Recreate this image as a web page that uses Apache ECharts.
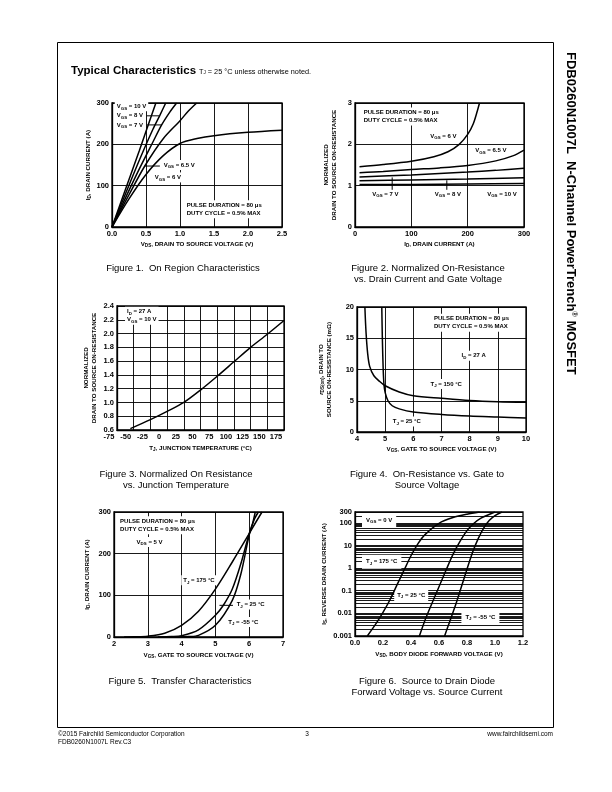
<!DOCTYPE html>
<html>
<head>
<meta charset="utf-8">
<script src="https://cdn.jsdelivr.net/npm/echarts@6.0.0/dist/echarts.min.js"></script>
<style>
html,body{margin:0;padding:0;background:#fff;}
#c{width:612px;height:792px;}
</style>
</head>
<body>
<div id="c"></div>
<script>
// ======================= DATA =======================
// Figure 1 : On Region Characteristics  [VDS (V), ID (A)]
const fig1Vgs10 = [[0,0],[0.2,92],[0.4,184],[0.55,255],[0.645,300]];
const fig1Vgs8  = [[0,0],[0.2,81],[0.4,161],[0.6,236],[0.7,269],[0.79,300]];
const fig1Vgs7  = [[0,0],[0.2,71],[0.4,140],[0.6,205],[0.73,247],[0.85,278],[0.95,300]];
const fig1Vgs65 = [[0,0],[0.25,78],[0.48,147],[0.75,213],[1.0,257],[1.12,280],[1.245,300]];
const fig1Vgs6  = [[0,0],[0.25,68],[0.5,127],[0.75,172],[1.0,202],[1.25,214],[1.5,221],[2.0,229],[2.5,234]];
const fig1XAxis = [0, 2.5, 0.5];
const fig1YAxis = [0, 300, 100];

// Figure 2 : Normalized On-Resistance vs Drain Current  [ID (A), normalized]
const fig2Vgs6  = [[8,1.46],[50,1.51],[100,1.59],[140,1.70],[165,1.82],[185,2.0],[200,2.24],[210,2.5],[217,2.8],[221,3.0]];
const fig2Vgs65 = [[8,1.31],[50,1.34],[100,1.39],[150,1.43],[200,1.49],[250,1.6],[280,1.72],[300,1.86]];
const fig2Vgs7  = [[8,1.21],[100,1.26],[200,1.33],[250,1.37],[300,1.42]];
const fig2Vgs8  = [[8,1.12],[100,1.14],[200,1.16],[300,1.19]];
const fig2Vgs10 = [[8,1.03],[100,1.03],[200,1.04],[300,1.05]];
const fig2XAxis = [0, 300, 100];
const fig2YAxis = [0, 3, 1];

// Figure 3 : Normalized On Resistance vs Junction Temperature  [TJ (°C), normalized]
const fig3Curve = [[-55,0.62],[-25,0.75],[0,0.87],[25,1.0],[50,1.18],[75,1.38],[100,1.59],[125,1.80],[150,1.99],[175,2.19]];
const fig3XAxis = [-75, 175, 25];
const fig3YAxis = [0.6, 2.4, 0.2];

// Figure 4 : On-Resistance vs Gate to Source Voltage  [VGS (V), rDS(on) (mΩ)]
const fig4Tj25  = [[4.88,20],[4.9,15],[4.93,10],[4.96,7.5],[5.0,6.3],[5.1,5.0],[5.25,4.2],[5.5,3.7],[6,3.2],[7,2.8],[8,2.55],[9,2.4],[10,2.25]];
const fig4Tj150 = [[4.28,20],[4.32,16],[4.38,12.5],[4.45,10.5],[4.6,9],[4.8,8.1],[5,7.4],[5.5,6.4],[6,5.8],[7,5.4],[8,5.05],[9,4.85],[10,4.75]];
const fig4XAxis = [4, 10, 1];
const fig4YAxis = [0, 20, 5];

// Figure 5 : Transfer Characteristics  [VGS (V), ID (A)]
const fig5Tj175 = [[2.3,0],[2.6,0.5],[3,2],[3.5,9],[4,28],[4.5,62],[5,115],[5.5,180],[6,248],[6.2,276],[6.38,300]];
const fig5Tj25  = [[3.3,0],[3.7,1],[4,3],[4.5,17],[5,52],[5.25,78],[5.5,115],[5.75,175],[6,248],[6.15,282],[6.27,300]];
const fig5TjM55 = [[3.9,0],[4.2,1],[4.5,4],[5,28],[5.5,88],[5.75,150],[6,245],[6.1,272],[6.18,300]];
const fig5XAxis = [2, 7, 1];
const fig5YAxis = [0, 300, 100];

// Figure 6 : Source to Drain Diode Forward Voltage  [VSD (V), IS (A), log]
const fig6Tj175 = [[0.088,0.001],[0.15,0.0035],[0.2,0.011],[0.25,0.04],[0.3,0.18],[0.35,0.8],[0.4,3.5],[0.45,12],[0.5,30],[0.6,95],[0.7,170],[0.8,240],[0.89,300]];
const fig6Tj25  = [[0.46,0.001],[0.5,0.005],[0.55,0.028],[0.6,0.15],[0.65,0.8],[0.7,4],[0.75,15],[0.8,45],[0.85,95],[0.9,160],[0.97,250],[1.0,300]];
const fig6TjM55 = [[0.64,0.001],[0.68,0.005],[0.72,0.025],[0.76,0.15],[0.8,0.9],[0.84,5],[0.88,20],[0.92,60],[0.96,130],[1.0,210],[1.05,300]];
const fig6XAxis = [0, 1.2, 0.2];
const fig6YAxis = [0.001, 300];

// ======================= STYLE / LAYOUT =======================
const FONT = 'Liberation Sans, Arial, sans-serif';
const BLACK = '#000';

const grids = [
  {left:112, top:103, width:170, height:124},
  {left:355, top:103, width:169, height:124},
  {left:117, top:306, width:167, height:124},
  {left:357, top:307, width:169, height:125},
  {left:114, top:512, width:169, height:125},
  {left:355, top:512, width:168, height:124}
].map(g => Object.assign({show:true, borderColor:BLACK, borderWidth:1.3, backgroundColor:'transparent'}, g));

const subRich = {
  s:{fontFamily:FONT, fontWeight:'bold', fontSize:4.6, color:BLACK, verticalAlign:'bottom', lineHeight:4},
  i:{fontFamily:FONT, fontWeight:'bold', fontStyle:'italic', fontSize:6.2, color:BLACK}
};
const nameStyle = {fontFamily:FONT, fontWeight:'bold', fontSize:6.2, color:BLACK, lineHeight:8, rich:subRich};
const labelStyle = {color:BLACK, fontFamily:FONT, fontWeight:'bold', fontSize:7.5};

function fmtFixed(d){ return v => (+v).toFixed(d); }

function vAxis(gi, r, name, nameGap, fmt, extra, labelExtra){
  return Object.assign({
    gridIndex:gi, type:'value', min:r[0], max:r[1], interval:r[2],
    name:name, nameLocation:'middle', nameGap:nameGap, nameTextStyle:nameStyle,
    axisLine:{show:true, onZero:false, lineStyle:{color:BLACK, width:1.3}},
    axisTick:{show:false},
    axisLabel:Object.assign({margin:3, formatter:fmt}, labelStyle, labelExtra || {}),
    splitLine:{show:true, lineStyle:{color:BLACK, width:0.9}}
  }, extra || {});
}

const xAxes = [
  vAxis(0, fig1XAxis, 'V{s|DS}, DRAIN TO SOURCE VOLTAGE (V)', 13, fmtFixed(1)),
  vAxis(1, fig2XAxis, 'I{s|D}, DRAIN CURRENT (A)', 13, fmtFixed(0)),
  vAxis(2, fig3XAxis, 'T{s|J}, JUNCTION TEMPERATURE (°C)', 14, fmtFixed(0), null, {padding:[0,16,0,0]}),
  vAxis(3, fig4XAxis, 'V{s|GS}, GATE TO SOURCE VOLTAGE (V)', 13, fmtFixed(0)),
  vAxis(4, fig5XAxis, 'V{s|GS}, GATE TO SOURCE VOLTAGE (V)', 14, fmtFixed(0)),
  vAxis(5, fig6XAxis, 'V{s|SD}, BODY DIODE FORWARD VOLTAGE (V)', 14, fmtFixed(1), {splitLine:{show:false}})
];
const yAxes = [
  vAxis(0, fig1YAxis, 'I{s|D}, DRAIN CURRENT (A)', 18, fmtFixed(0), {nameRotate:90}),
  vAxis(1, fig2YAxis, 'NORMALIZED\nDRAIN TO SOURCE ON-RESISTANCE', 17, fmtFixed(0), {nameRotate:90}),
  vAxis(2, fig3YAxis, 'NORMALIZED\nDRAIN TO SOURCE ON-RESISTANCE', 19, fmtFixed(1), {nameRotate:90}),
  vAxis(3, fig4YAxis, '{i|r}{s|DS(on)}, DRAIN TO\nSOURCE ON-RESISTANCE (mΩ)', 24, fmtFixed(0), {nameRotate:90}),
  vAxis(4, fig5YAxis, 'I{s|D}, DRAIN CURRENT (A)', 23, fmtFixed(0), {nameRotate:90}),
  {
    gridIndex:5, type:'log', logBase:10, min:fig6YAxis[0], max:fig6YAxis[1],
    name:'I{s|S}, REVERSE DRAIN CURRENT (A)', nameLocation:'middle', nameGap:27, nameRotate:90, nameTextStyle:nameStyle,
    axisLine:{show:true, onZero:false, lineStyle:{color:BLACK, width:1.3}},
    axisTick:{show:false},
    axisLabel:Object.assign({margin:3, formatter: v => String(+(+v).toPrecision(6))}, labelStyle),
    splitLine:{show:true, lineStyle:{color:BLACK, width:0.9}}
  }
];

function curve(gi, data){
  return {type:'line', xAxisIndex:gi, yAxisIndex:gi, data:data, symbol:'none', smooth:0.3,
          lineStyle:{color:BLACK, width:1.5}, silent:true, z:3, clip:true, animation:false};
}

const series = [
  curve(0, fig1Vgs10), curve(0, fig1Vgs8), curve(0, fig1Vgs7), curve(0, fig1Vgs65), curve(0, fig1Vgs6),
  curve(1, fig2Vgs6), curve(1, fig2Vgs65), curve(1, fig2Vgs7), curve(1, fig2Vgs8), curve(1, fig2Vgs10),
  curve(2, fig3Curve),
  curve(3, fig4Tj25), curve(3, fig4Tj150),
  curve(4, fig5Tj175), curve(4, fig5Tj25), curve(4, fig5TjM55),
  curve(5, fig6Tj175), curve(5, fig6Tj25), curve(5, fig6TjM55)
];

const chart = echarts.init(document.getElementById('c'), null, {renderer:'canvas'});
chart.setOption({
  animation:false,
  backgroundColor:'#fff',
  grid:grids, xAxis:xAxes, yAxis:yAxes, series:series
});

// ======================= ANNOTATIONS =======================
const annRich = {
  s:{fontFamily:FONT, fontWeight:'bold', fontSize:4.4, fill:BLACK, verticalAlign:'bottom', lineHeight:4},
  t:{fontFamily:FONT, fontWeight:'bold', fontSize:6, fill:BLACK, lineHeight:8}
};
const notes = [
  {g:0, at:[0.04,292], t:'V{s|GS} = 10 V'},
  {g:0, at:[0.04,269], t:'V{s|GS} = 8 V'},
  {g:0, at:[0.04,247], t:'V{s|GS} = 7 V'},
  {g:0, at:[0.73,150], t:'V{s|GS} = 6.5 V'},
  {g:0, at:[0.6,120], t:'V{s|GS} = 6 V'},
  {g:0, at:[1.07,43], t:'PULSE DURATION = 80 μs\nDUTY CYCLE = 0.5% MAX'},
  {g:1, at:[12,2.675], t:'PULSE DURATION = 80 μs\nDUTY CYCLE = 0.5% MAX'},
  {g:1, at:[130,2.2], t:'V{s|GS} = 6 V'},
  {g:1, at:[210,1.85], t:'V{s|GS} = 6.5 V'},
  {g:1, at:[27,0.8], t:'V{s|GS} = 7 V'},
  {g:1, at:[138,0.8], t:'V{s|GS} = 8 V'},
  {g:1, at:[231,0.8], t:'V{s|GS} = 10 V'},
  {g:2, at:[-63,2.26], t:'I{s|D} = 27 A\nV{s|GS} = 10 V'},
  {g:3, at:[6.66,17.5], t:'PULSE DURATION = 80 μs\nDUTY CYCLE = 0.5% MAX'},
  {g:3, at:[7.64,12.2], t:'I{s|D} = 27 A'},
  {g:3, at:[6.54,7.7], t:'T{s|J} = 150 °C'},
  {g:3, at:[5.2,1.7], t:'T{s|J} = 25 °C'},
  {g:4, at:[2.12,268], t:'PULSE DURATION = 80 μs\nDUTY CYCLE = 0.5% MAX'},
  {g:4, at:[2.61,228], t:'V{s|DS} = 5 V'},
  {g:4, at:[3.99,136], t:'T{s|J} = 175 °C'},
  {g:4, at:[5.57,78], t:'T{s|J} = 25 °C'},
  {g:4, at:[5.32,36], t:'T{s|J} = -55 °C'},
  {g:5, at:[0.05,130], t:'V{s|GS} = 0 V', pad:[3,4,3,4]},
  {g:5, at:[0.05,1.9], t:'T{s|J} = 175 °C', pad:[3,4,3,4]},
  {g:5, at:[0.28,0.063], t:'T{s|J} = 25 °C', pad:[3,3,3,3]},
  {g:5, at:[0.76,0.0068], t:'T{s|J} = -55 °C', pad:[3,4,3,4]}
];
const leaders = [
  {g:0, a:[0.51,269], b:[0.70,269]},
  {g:0, a:[0.517,247], b:[0.728,247]},
  {g:0, a:[0.482,147.5], b:[0.704,147.5]},
  {g:1, a:[66,0.9], b:[66,1.2]},
  {g:1, a:[163,0.9], b:[163,1.13]},
  {g:4, a:[5.12,76], b:[5.52,76]}
];
const fig6MinorLines = [];
for (let k = -3; k <= 2; k++) for (let m = 2; m <= 9; m++) { const v = +(m * Math.pow(10, k)).toPrecision(3); if (v < 300) fig6MinorLines.push(v); }

function px(g, p){ return chart.convertToPixel({gridIndex:g}, p); }

const gfx = [];
gfx.push({type:'rect', z:0, shape:{x:57.5, y:42.5, width:496, height:685}, style:{fill:'none', stroke:BLACK, lineWidth:1}});
fig6MinorLines.forEach(v => {
  const a = px(5, [0, v]), b = px(5, [1.2, v]);
  gfx.push({type:'line', z:0, silent:true, shape:{x1:a[0], y1:Math.round(a[1])+0.5, x2:b[0], y2:Math.round(a[1])+0.5}, style:{stroke:BLACK, lineWidth:0.9}});
});
notes.forEach(n => {
  const p = px(n.g, n.at);
  gfx.push({type:'text', z:1, x:p[0], y:p[1], style:{
    text:n.t, fontFamily:FONT, fontWeight:'bold', fontSize:6, fill:BLACK, lineHeight:8,
    align:'left', verticalAlign:'middle', textAlign:'left', textVerticalAlign:'middle',
    backgroundColor:'#fff', padding:n.pad || [1,2,1,2], rich:annRich}});
});
leaders.forEach(l => {
  const a = px(l.g, l.a), b = px(l.g, l.b);
  gfx.push({type:'line', z:2, shape:{x1:a[0], y1:a[1], x2:b[0], y2:b[1]}, style:{stroke:BLACK, lineWidth:1}});
});

gfx.push({type:'text', z:5, x:71, y:71, style:{text:'Typical Characteristics', fontFamily:FONT, fontWeight:'bold', fontSize:11.5, fill:BLACK, align:'left', verticalAlign:'middle', textAlign:'left', textVerticalAlign:'middle'}});
gfx.push({type:'text', z:5, x:199, y:72, style:{text:'T{s|J} = 25 °C unless otherwise noted.', fontFamily:FONT, fontSize:7.3, fill:BLACK, align:'left', verticalAlign:'middle', textAlign:'left', textVerticalAlign:'middle',
  rich:{s:{fontFamily:FONT, fontSize:4.6, fill:BLACK, verticalAlign:'bottom', lineHeight:4}}}});

const captions = [
  {x:183, y:268, t:'Figure 1.  On Region Characteristics'},
  {x:428, y:273.5, t:'Figure 2. Normalized On-Resistance\nvs. Drain Current and Gate Voltage'},
  {x:176, y:479.5, t:'Figure 3. Normalized On Resistance\nvs. Junction Temperature'},
  {x:427, y:479.5, t:'Figure 4.  On-Resistance vs. Gate to\nSource Voltage'},
  {x:180, y:681, t:'Figure 5.  Transfer Characteristics'},
  {x:427, y:686.5, t:'Figure 6.  Source to Drain Diode\nForward Voltage vs. Source Current'}
];
captions.forEach(c => gfx.push({type:'text', z:5, x:c.x, y:c.y, style:{text:c.t, fontFamily:FONT, fontSize:9.5, fill:BLACK, lineHeight:11,
  align:'center', verticalAlign:'middle', textAlign:'center', textVerticalAlign:'middle'}}));

gfx.push({type:'text', z:5, x:571, y:52, rotation:-Math.PI/2, style:{text:'FDB0260N1007L  N-Channel PowerTrench{sup|®} MOSFET',
  fontFamily:FONT, fontWeight:'bold', fontSize:13, fill:BLACK, align:'left', verticalAlign:'middle', textAlign:'left', textVerticalAlign:'middle',
  rich:{sup:{fontFamily:FONT, fontWeight:'bold', fontSize:7.5, fill:BLACK, verticalAlign:'top', lineHeight:15}}}});

const footStyle = {fontFamily:FONT, fontSize:6.5, fill:BLACK, verticalAlign:'middle', textVerticalAlign:'middle'};
gfx.push({type:'text', z:5, x:58, y:734, style:Object.assign({text:'©2015 Fairchild Semiconductor Corporation', align:'left', textAlign:'left'}, footStyle)});
gfx.push({type:'text', z:5, x:58, y:742, style:Object.assign({text:'FDB0260N1007L Rev.C3', align:'left', textAlign:'left'}, footStyle)});
gfx.push({type:'text', z:5, x:307, y:734, style:Object.assign({text:'3', align:'center', textAlign:'center'}, footStyle)});
gfx.push({type:'text', z:5, x:553, y:734, style:Object.assign({text:'www.fairchildsemi.com', align:'right', textAlign:'right'}, footStyle)});

chart.setOption({graphic:{elements:gfx}});
</script>
</body>
</html>
